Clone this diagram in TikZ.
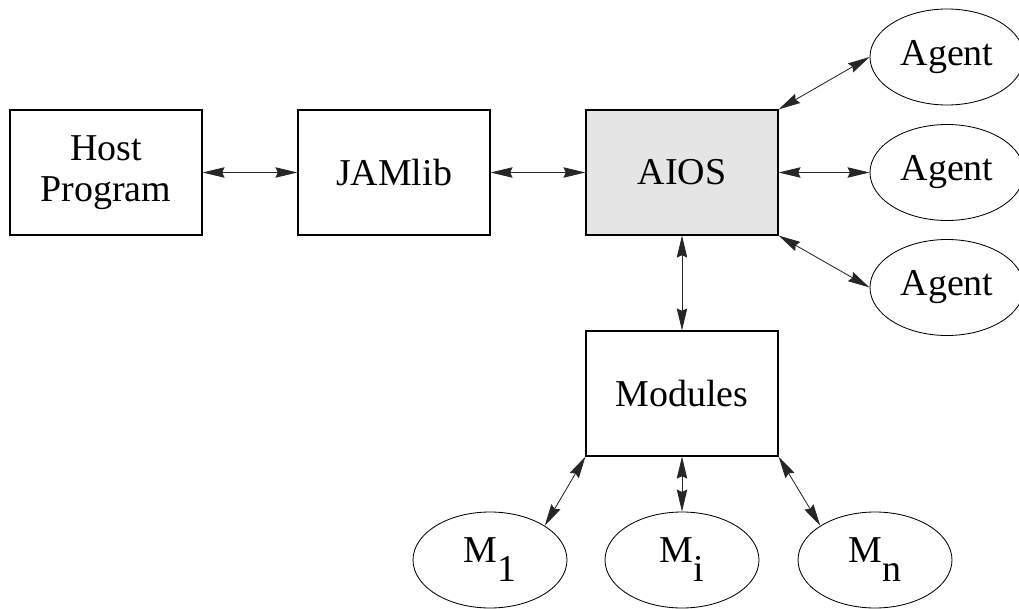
\documentclass[tikz,border=0pt]{standalone}
\usepackage{fontspec}
\setmainfont{Liberation Serif}
\usetikzlibrary{arrows.meta,shapes.geometric}

\definecolor{aiosgray}{gray}{0.9}
\newcommand{\msub}[1]{M\raisebox{-0.5em}{#1}}

\begin{document}
\begin{tikzpicture}[
  box/.style={draw, line width=0.8pt, minimum width=4.8cm, minimum height=3.125cm, align=center, inner sep=0pt},
  blob/.style={draw, ellipse, line width=0.6pt, minimum width=3.85cm, minimum height=2.4cm, inner sep=0pt},
  link/.style={black!85, line width=0.6pt, <->},
  >={Stealth[length=0.55cm, width=0.26cm, inset=0.06cm]},
  font=\fontsize{27}{29}\selectfont]

\useasboundingbox (0,0) rectangle (25.475,15.2);

\node[box] (host) at (2.65,10.8875) {Host\\Program};
\node[box] (jamlib) at (9.85,10.8875) {JAMlib};
\node[box, fill=aiosgray] (aios) at (17.05,10.8875) {AIOS};
\node[box] (modules) at (17.05,5.3625) {Modules};

\node[blob] (agent1) at (23.675,13.775) {Agent};
\node[blob] (agent2) at (23.675,10.8875) {Agent};
\node[blob] (agent3) at (23.675,8.0125) {Agent};

\node[blob] (m1) at (12.25,1.2) {\msub{1}};
\node[blob] (mi) at (17.05,1.2) {\msub{i}};
\node[blob] (mn) at (21.875,1.2) {\msub{n}};

\draw[link] (host) -- (jamlib);
\draw[link] (jamlib) -- (aios);
\draw[link] (aios.north east) -- (agent1.west);
\draw[link] (aios) -- (agent2);
\draw[link] (aios.south east) -- (agent3.west);
\draw[link] (aios) -- (modules);

\draw[link] (modules.south west) -- (m1.north east);
\draw[link] (modules) -- (mi);
\draw[link] (modules.south east) -- (mn.north west);
\end{tikzpicture}
\end{document}
